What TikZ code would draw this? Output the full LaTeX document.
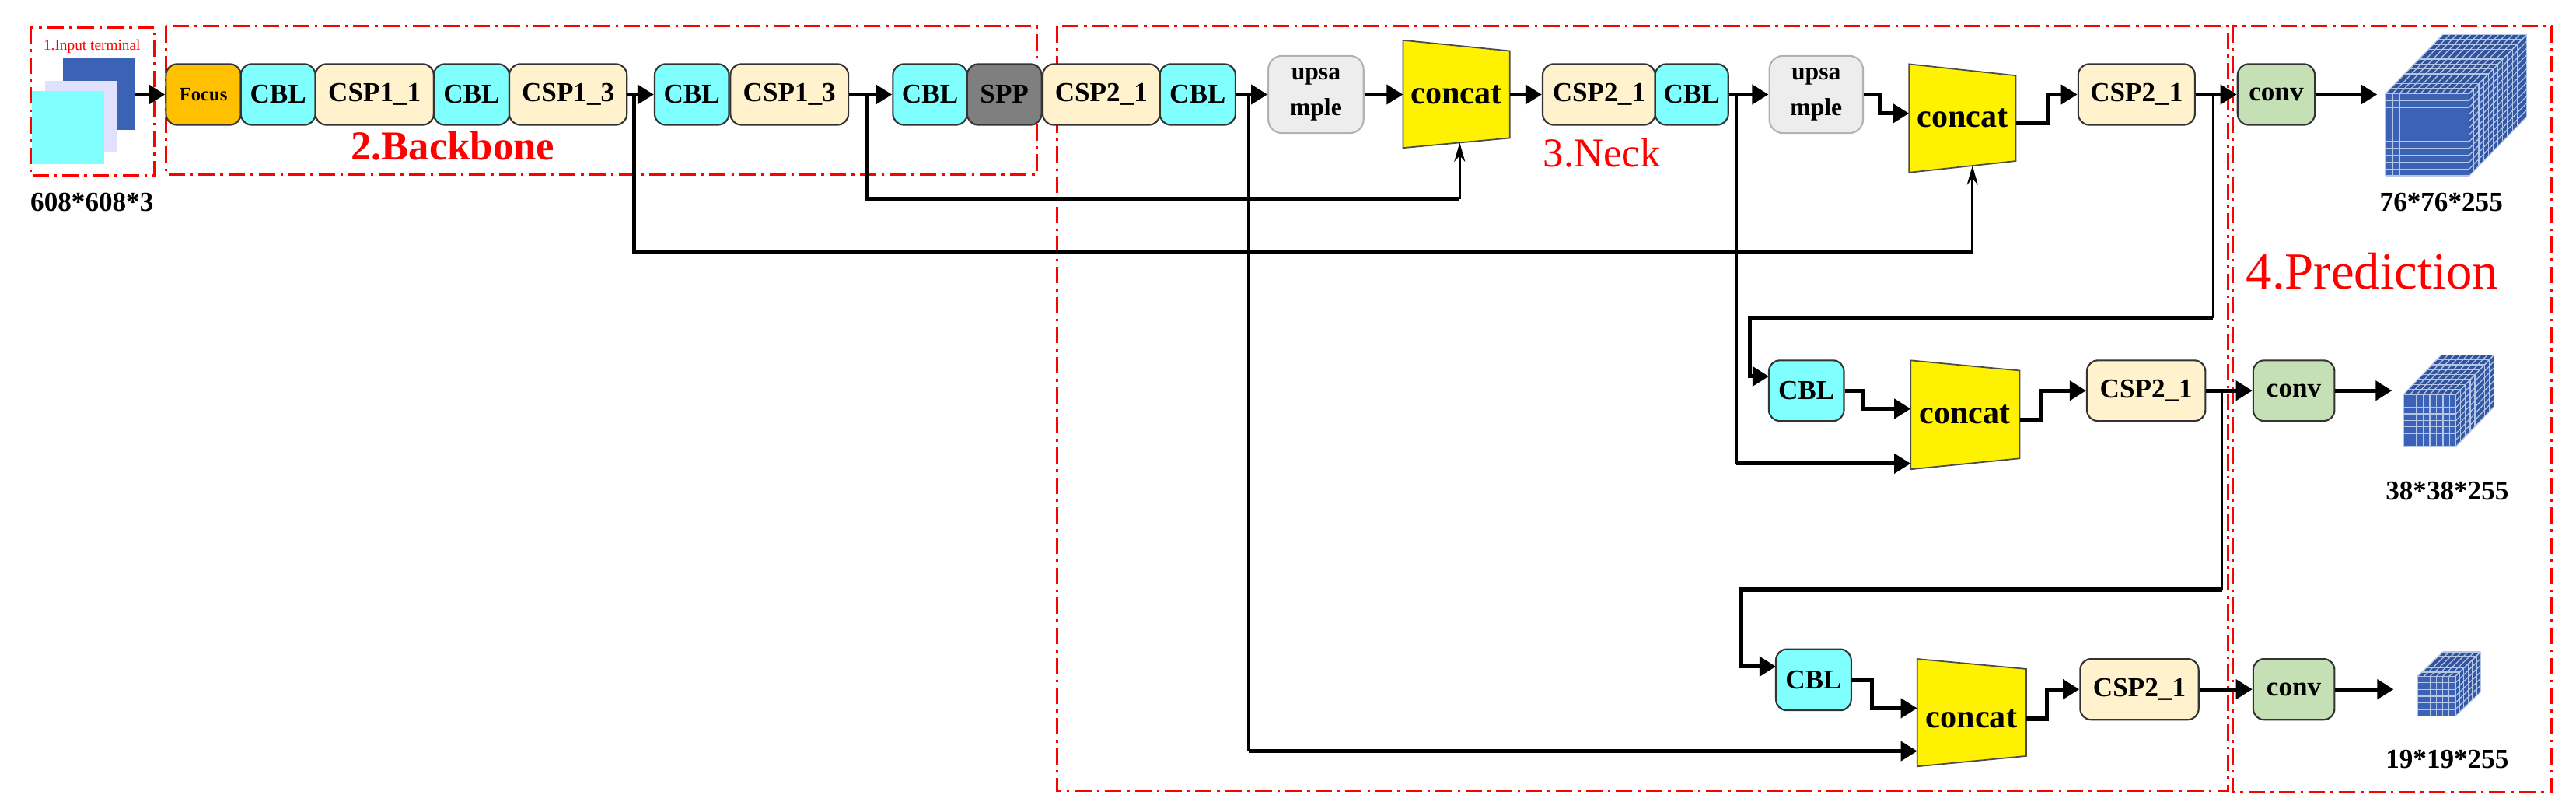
\documentclass[tikz,border=0pt]{standalone}
\usepackage{fontspec}
\setmainfont{Liberation Serif}
\usetikzlibrary{arrows.meta}
\definecolor{cyanb}{HTML}{80FFFF}
\definecolor{creamb}{HTML}{FFF2CC}
\definecolor{orangeb}{HTML}{FFC000}
\definecolor{grayb}{HTML}{7F7F7F}
\definecolor{upb}{HTML}{EDEDED}
\definecolor{convb}{HTML}{C5E0B4}
\definecolor{cubeb}{HTML}{3B62B5}
\definecolor{cubel}{HTML}{B4C6E7}
\tikzset{
  blk/.style={draw=black!80, rounded corners=4pt, line width=0.6pt, inner sep=0pt, font=\bfseries\fontsize{10}{11}\selectfont},
  upbox/.style={draw=black!30, fill=upb, rounded corners=5pt, line width=0.6pt, inner sep=0pt, align=center, font=\bfseries\fontsize{9}{13}\selectfont},
  conc/.style={draw=black!70, fill=yellow, line width=0.5pt},
  region/.style={draw=red, line width=0.9pt, dash pattern=on 6pt off 2pt on 1pt off 2pt},
  thk/.style={line width=1.5pt, -{Triangle[length=6pt,width=7pt]}},
  thn/.style={line width=0.8pt, -{Stealth[length=7pt,width=4pt]}},
  thkline/.style={line width=1.5pt},
  thnline/.style={line width=0.8pt},
}
\newcommand\blk[7]{\node[blk,#6,minimum width={(#3-#2)*0.2113mm},minimum height={(#5-#4)*0.2113mm}] (#1) at ({(#2+#3)/2},{(#4+#5)/2}) {#7};}
\newcommand\gcube[7]{%
  \fill[cubeb] (#1,#2) rectangle ({#1+#3},{#2+#4});
  \fill[cubeb!85!black] (#1,#2)--({#1+#5},{#2+#6})--({#1+#3+#5},{#2+#6})--({#1+#3},#2)--cycle;
  \fill[cubeb!90!black] ({#1+#3},#2)--({#1+#3+#5},{#2+#6})--({#1+#3+#5},{#2+#4+#6})--({#1+#3},{#2+#4})--cycle;
  \foreach \i in {0,...,#7}{
    \draw[cubel,line width=0.35pt] ({#1+\i*#3/#7},#2)--({#1+\i*#3/#7},{#2+#4});
    \draw[cubel,line width=0.35pt] (#1,{#2+\i*#4/#7})--({#1+#3},{#2+\i*#4/#7});
    \draw[cubel,line width=0.35pt] ({#1+\i*#3/#7},#2)--({#1+\i*#3/#7+#5},{#2+#6});
    \draw[cubel,line width=0.35pt] ({#1+\i*#5/#7},{#2+\i*#6/#7})--({#1+#3+\i*#5/#7},{#2+\i*#6/#7});
    \draw[cubel,line width=0.35pt] ({#1+#3},{#2+\i*#4/#7})--({#1+#3+#5},{#2+\i*#4/#7+#6});
    \draw[cubel,line width=0.35pt] ({#1+#3+\i*#5/#7},{#2+\i*#6/#7})--({#1+#3+\i*#5/#7},{#2+#4+\i*#6/#7});
  }}
\begin{document}
\begin{tikzpicture}[x=0.2113mm,y=-0.2113mm]
\useasboundingbox (0,0) rectangle (1568,492);
% regions
\draw[region] (18.6,16.6) rectangle (93.8,107);
\draw[region] (101,16) rectangle (631,106);
\draw[region] (643.6,16) rectangle (1356,481);
\draw[region] (1359,16) rectangle (1553,482);
\node[red,font=\fontsize{5.5}{6}\selectfont] (tin) at (56,28.4) {1.Input terminal};
\node[red,font=\bfseries\fontsize{15}{16}\selectfont] (tbb) at (275.5,88.7) {2.Backbone};
\node[red,font=\fontsize{15}{16}\selectfont] (tnk) at (975,93) {3.Neck};
\node[red,font=\fontsize{19}{20}\selectfont] (tpr) at (1444,165) {4.Prediction};
% input images
\fill[cubeb] (38.5,35.5) rectangle (82,79);
\fill[blue!12!white] (27.5,49) rectangle (71,93);
\fill[cyanb] (19.4,55.5) rectangle (63.4,99.7);
\coordinate (inp) at (82,57.5);
\node[font=\bfseries\fontsize{10}{11}\selectfont] (t608) at (56,123) {608*608*3};
% backbone row
\blk{focus}{101}{146.6}{39}{76}{fill=orangeb}{\fontsize{7}{8}\selectfont Focus}
\blk{cbla}{146.6}{192}{39}{76}{fill=cyanb}{CBL}
\blk{cspa}{192}{264}{39}{76}{fill=creamb}{CSP1\_1}
\blk{cblb}{264}{310}{39}{76}{fill=cyanb}{CBL}
\blk{cspb}{310}{381.6}{39}{76}{fill=creamb}{CSP1\_3}
\blk{cblc}{398.5}{443.7}{39}{76}{fill=cyanb}{CBL}
\blk{cspc}{444.6}{516.4}{39}{76}{fill=creamb}{CSP1\_3}
\blk{cbld}{543.5}{588.7}{39}{76}{fill=cyanb}{CBL}
\blk{spp}{588.7}{634}{39}{76}{fill=grayb}{SPP}
\blk{cspd}{634.7}{706}{39}{76}{fill=creamb}{CSP2\_1}
\blk{cble}{706}{752}{39}{76}{fill=cyanb}{CBL}
\node[upbox,minimum width={58*0.2113mm},minimum height={47*0.2113mm}] (up1) at (801,57.5) {upsa\\mple};
\draw[conc] (854,24.5)--(919,31)--(919,84)--(854,90)--cycle;
\node[font=\bfseries\fontsize{12}{13}\selectfont] (cc1) at (886.5,57.5) {concat};
\blk{cspe}{939}{1007.5}{39}{76}{fill=creamb}{CSP2\_1}
\blk{cblf}{1007.5}{1052}{39}{76}{fill=cyanb}{CBL}
\node[upbox,minimum width={57*0.2113mm},minimum height={47*0.2113mm}] (up2) at (1105.5,57.5) {upsa\\mple};
\draw[conc] (1162,39)--(1227,46)--(1227,98)--(1162,105)--cycle;
\node[font=\bfseries\fontsize{12}{13}\selectfont] (cc2) at (1194.5,72) {concat};
\blk{cspf}{1265}{1336}{39}{76}{fill=creamb}{CSP2\_1}
\blk{conva}{1362}{1409}{39}{76}{fill=convb}{conv}
\gcube{1452}{57}{51}{50}{35}{-36}{12}
\node[font=\bfseries\fontsize{10}{11}\selectfont] (t76) at (1486,123) {76*76*255};
% row 2
\blk{cblg}{1076.7}{1122.4}{219.3}{256.1}{fill=cyanb}{CBL}
\draw[conc] (1163,219.3)--(1229.4,225.5)--(1229.4,278.9)--(1163,285.5)--cycle;
\node[font=\bfseries\fontsize{12}{13}\selectfont] (cc3) at (1196,252) {concat};
\blk{cspg}{1270.3}{1342.4}{219.3}{256.1}{fill=creamb}{CSP2\_1}
\blk{convb}{1371.5}{1421}{219.3}{256.1}{fill=convb}{conv}
\gcube{1463}{240}{32}{31.5}{23}{-24}{8}
\node[font=\bfseries\fontsize{10}{11}\selectfont] (t38) at (1489.6,298.4) {38*38*255};
% row 3
\blk{cblh}{1081}{1126.8}{395}{432.2}{fill=cyanb}{CBL}
\draw[conc] (1167,400.9)--(1233.4,407)--(1233.4,460)--(1167,466.3)--cycle;
\node[font=\bfseries\fontsize{12}{13}\selectfont] (cc4) at (1200,437) {concat};
\blk{csph}{1266.2}{1338.3}{400.9}{437.9}{fill=creamb}{CSP2\_1}
\blk{convc}{1371.5}{1421}{400.9}{437.9}{fill=convb}{conv}
\gcube{1471.6}{411.4}{23}{24.3}{15.4}{-14.8}{6}
\node[font=\bfseries\fontsize{10}{11}\selectfont] (t19) at (1489.6,462) {19*19*255};
% row 1 arrows
\draw[thk] (inp) -- (focus.west);
\draw[thk] (cspb.east) -- (cblc.west);
\draw[thk] (cspc.east) -- (cbld.west);
\draw[thk] (cble.east) -- (up1.west);
\draw[thk] (up1.east) -- (854,57.5);
\draw[thk] (919,57.5) -- (cspe.west);
\draw[thk] (cblf.east) -- (up2.west);
\draw[thk] (up2.east) -- (1144,57.5) -- (1144,69) -- (1162,69);
\draw[thk] (1227,75) -- (1247,75) -- (1247,57.5) -- (cspf.west);
\draw[thk] (cspf.east) -- (conva.west);
\draw[thk] (conva.east) -- (1447,57.5);
% branches
\draw[thkline] (386,57.5) -- (386,153) -- (1200.6,153);
\draw[thn] (1200.6,153) -- (1200.6,100.8);
\draw[thkline] (528,57.5) -- (528,121) -- (888.5,121);
\draw[thn] (888.5,121) -- (888.5,86.8);
\draw[thnline] (760,57.5) -- (760,457);
\draw[thk] (760,457) -- (1167,457);
\draw[thnline] (1057,57.5) -- (1057,282);
\draw[thk] (1057,282) -- (1163,282);
\draw[thnline] (1347,57.5) -- (1347,193.6);
\draw[thk] (1347,193.6) -- (1065,193.6) -- (1065,229) -- (1076.7,229);
% row 2 arrows
\draw[thk] (cblg.east) -- (1134.3,237.7) -- (1134.3,248.7) -- (1163,248.7);
\draw[thk] (1229.4,255.5) -- (1242,255.5) -- (1242,237.7) -- (cspg.west);
\draw[thk] (cspg.east) -- (convb.west);
\draw[thnline] (1352.5,237.7) -- (1352.5,358.8);
\draw[thk] (1352.5,358.8) -- (1059.8,358.8) -- (1059.8,405.5) -- (1081,405.5);
\draw[thk] (convb.east) -- (1456,237.7);
% row 3 arrows
\draw[thk] (1126.8,413.9) -- (1139.3,413.9) -- (1139.3,430.9) -- (1167,430.9);
\draw[thk] (1233.4,437.3) -- (1246,437.3) -- (1246,419.4) -- (csph.west);
\draw[thk] (csph.east) -- (convc.west);
\draw[thk] (convc.east) -- (1457,419.4);
\end{tikzpicture}
\end{document}
